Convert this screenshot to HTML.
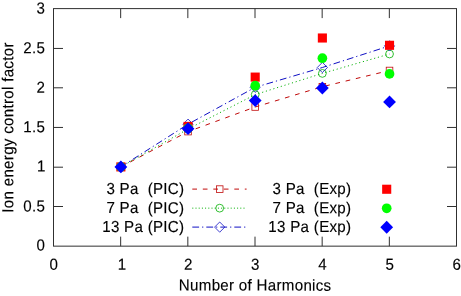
<!DOCTYPE html>
<html lang="en">
<head>
<meta charset="utf-8">
<title>Ion energy control factor vs Number of Harmonics</title>
<style>
html,body{margin:0;padding:0;background:#fff;}
body{width:461px;height:296px;overflow:hidden;}
svg{display:block;}
svg text{stroke:#000;stroke-width:0.14px;letter-spacing:0.32px;text-rendering:geometricPrecision;}
</style>
</head>
<body>
<svg width="461" height="296" viewBox="0 0 461 296" font-family="'Liberation Sans', Arial, Helvetica, sans-serif" font-size="15.9" fill="#000">
<rect width="461" height="296" fill="#fff"/>
<path d="M120.67 246.15V236.65M120.67 8.6V18.1M187.83 246.15V236.65M187.83 8.6V18.1M255.00 246.15V236.65M255.00 8.6V18.1M322.17 246.15V236.65M322.17 8.6V18.1M389.33 246.15V236.65M389.33 8.6V18.1M53.5 206.50H63.0M456.5 206.50H447.0M53.5 167.20H63.0M456.5 167.20H447.0M53.5 127.45H63.0M456.5 127.45H447.0M53.5 87.80H63.0M456.5 87.80H447.0M53.5 48.45H63.0M456.5 48.45H447.0" stroke="#303030" stroke-width="1" fill="none"/>
<rect x="53.5" y="8.6" width="403.0" height="237.55" fill="none" stroke="#303030" stroke-width="1"/>
<text transform="translate(45.10 250.58) rotate(0.03) scale(0.95 1)" text-anchor="end">0</text>
<text transform="translate(45.10 211.50) rotate(0.03) scale(0.95 1)" text-anchor="end">0.5</text>
<text transform="translate(45.80 171.42) rotate(0.03) scale(0.95 1)" text-anchor="end">1</text>
<text transform="translate(45.10 132.34) rotate(0.03) scale(0.95 1)" text-anchor="end">1.5</text>
<text transform="translate(45.10 92.76) rotate(0.03) scale(0.95 1)" text-anchor="end">2</text>
<text transform="translate(45.10 53.18) rotate(0.03) scale(0.95 1)" text-anchor="end">2.5</text>
<text transform="translate(45.10 13.60) rotate(0.03) scale(0.95 1)" text-anchor="end">3</text>
<text transform="translate(53.95 269.80) rotate(0.03) scale(0.95 1)" text-anchor="middle">0</text>
<text transform="translate(122.02 269.80) rotate(0.03) scale(0.95 1)" text-anchor="middle">1</text>
<text transform="translate(188.28 269.80) rotate(0.03) scale(0.95 1)" text-anchor="middle">2</text>
<text transform="translate(255.45 269.80) rotate(0.03) scale(0.95 1)" text-anchor="middle">3</text>
<text transform="translate(322.62 269.80) rotate(0.03) scale(0.95 1)" text-anchor="middle">4</text>
<text transform="translate(389.78 269.80) rotate(0.03) scale(0.95 1)" text-anchor="middle">5</text>
<text transform="translate(456.95 269.80) rotate(0.03) scale(0.95 1)" text-anchor="middle">6</text>
<text transform="translate(255.15 290.60) rotate(0.03) scale(0.95 1)" text-anchor="middle">Number of Harmonics</text>
<text transform="translate(13.3 127.47) rotate(-89.97) scale(0.95 1)" text-anchor="middle">Ion energy control factor</text>
<text transform="translate(184.40 194.10) rotate(0.03) scale(0.95 1)" text-anchor="end" xml:space="preserve">3 Pa  (PIC)</text>
<text transform="translate(351.40 194.10) rotate(0.03) scale(0.95 1)" text-anchor="end" xml:space="preserve">3 Pa  (Exp)</text>
<text transform="translate(184.40 213.15) rotate(0.03) scale(0.95 1)" text-anchor="end" xml:space="preserve">7 Pa  (PIC)</text>
<text transform="translate(351.40 213.15) rotate(0.03) scale(0.95 1)" text-anchor="end" xml:space="preserve">7 Pa  (Exp)</text>
<text transform="translate(184.40 232.10) rotate(0.03) scale(0.95 1)" text-anchor="end" xml:space="preserve">13 Pa (PIC)</text>
<text transform="translate(351.40 232.10) rotate(0.03) scale(0.95 1)" text-anchor="end" xml:space="preserve">13 Pa (Exp)</text>
<polyline points="120.87,166.90 188.03,131.60 255.20,107.00 322.37,86.70 389.53,70.50" fill="none" stroke="#c00a0a" stroke-width="1.0" stroke-dasharray="4.7 5.8"/>
<polyline points="120.87,166.90 188.03,129.00 255.20,94.60 322.37,73.40 389.53,54.00" fill="none" stroke="#00b000" stroke-width="1.0" stroke-dasharray="1.1 2.8"/>
<polyline points="120.87,166.90 188.03,124.20 255.20,87.30 322.37,67.50 389.53,45.90" fill="none" stroke="#1010c4" stroke-width="1.0" stroke-dasharray="6.8 3 1.2 3"/>
<path d="M192.3 189.1H246.6" fill="none" stroke="#c00a0a" stroke-width="1.0" stroke-dasharray="4.7 5.8"/>
<path d="M192.3 208.15H246.6" fill="none" stroke="#00b000" stroke-width="1.0" stroke-dasharray="1 2.2"/>
<path d="M192.3 227.1H246.6" fill="none" stroke="#1010c4" stroke-width="1.0" stroke-dasharray="6.8 3 1.2 3"/>
<rect x="117.57" y="163.60" width="6.60" height="6.60" fill="none" stroke="#c00a0a" stroke-width="0.8"/>
<rect x="184.73" y="128.30" width="6.60" height="6.60" fill="none" stroke="#c00a0a" stroke-width="0.8"/>
<rect x="251.90" y="103.70" width="6.60" height="6.60" fill="none" stroke="#c00a0a" stroke-width="0.8"/>
<rect x="319.07" y="83.40" width="6.60" height="6.60" fill="none" stroke="#c00a0a" stroke-width="0.8"/>
<rect x="386.23" y="67.20" width="6.60" height="6.60" fill="none" stroke="#c00a0a" stroke-width="0.8"/>
<rect x="216.40" y="185.80" width="6.60" height="6.60" fill="none" stroke="#c00a0a" stroke-width="0.8"/>
<circle cx="120.87" cy="166.90" r="3.9" fill="none" stroke="#00b000" stroke-width="0.8"/>
<circle cx="188.03" cy="129.00" r="3.9" fill="none" stroke="#00b000" stroke-width="0.8"/>
<circle cx="255.20" cy="94.60" r="3.9" fill="none" stroke="#00b000" stroke-width="0.8"/>
<circle cx="322.37" cy="73.40" r="3.9" fill="none" stroke="#00b000" stroke-width="0.8"/>
<circle cx="389.53" cy="54.00" r="3.9" fill="none" stroke="#00b000" stroke-width="0.8"/>
<circle cx="219.70" cy="208.15" r="3.9" fill="none" stroke="#00b000" stroke-width="0.8"/>
<path d="M115.77 166.90L120.87 161.80L125.97 166.90L120.87 172.00Z" fill="none" stroke="#1010c4" stroke-width="0.8"/>
<path d="M182.93 124.20L188.03 119.10L193.13 124.20L188.03 129.30Z" fill="none" stroke="#1010c4" stroke-width="0.8"/>
<path d="M250.10 87.30L255.20 82.20L260.30 87.30L255.20 92.40Z" fill="none" stroke="#1010c4" stroke-width="0.8"/>
<path d="M317.27 67.50L322.37 62.40L327.47 67.50L322.37 72.60Z" fill="none" stroke="#1010c4" stroke-width="0.8"/>
<path d="M384.43 45.90L389.53 40.80L394.63 45.90L389.53 51.00Z" fill="none" stroke="#1010c4" stroke-width="0.8"/>
<path d="M214.60 227.10L219.70 222.00L224.80 227.10L219.70 232.20Z" fill="none" stroke="#1010c4" stroke-width="0.8"/>
<rect x="116.32" y="162.35" width="9.10" height="9.10" fill="#ff0000"/>
<rect x="183.48" y="121.85" width="9.10" height="9.10" fill="#ff0000"/>
<rect x="250.65" y="72.55" width="9.10" height="9.10" fill="#ff0000"/>
<rect x="317.82" y="33.45" width="9.10" height="9.10" fill="#ff0000"/>
<rect x="384.98" y="40.75" width="9.10" height="9.10" fill="#ff0000"/>
<rect x="382.15" y="184.70" width="9.10" height="9.10" fill="#ff0000"/>
<circle cx="120.87" cy="166.90" r="4.85" fill="#00ff00"/>
<circle cx="188.03" cy="128.30" r="4.85" fill="#00ff00"/>
<circle cx="255.20" cy="85.70" r="4.85" fill="#00ff00"/>
<circle cx="322.37" cy="58.20" r="4.85" fill="#00ff00"/>
<circle cx="389.53" cy="73.90" r="4.85" fill="#00ff00"/>
<circle cx="386.70" cy="208.30" r="4.85" fill="#00ff00"/>
<path d="M114.47 166.90L120.87 160.50L127.27 166.90L120.87 173.30Z" fill="#0000ff"/>
<path d="M181.63 128.70L188.03 122.30L194.43 128.70L188.03 135.10Z" fill="#0000ff"/>
<path d="M248.80 100.60L255.20 94.20L261.60 100.60L255.20 107.00Z" fill="#0000ff"/>
<path d="M315.97 88.00L322.37 81.60L328.77 88.00L322.37 94.40Z" fill="#0000ff"/>
<path d="M383.13 101.90L389.53 95.50L395.93 101.90L389.53 108.30Z" fill="#0000ff"/>
<path d="M380.30 227.25L386.70 220.85L393.10 227.25L386.70 233.65Z" fill="#0000ff"/>
</svg>
</body>
</html>
